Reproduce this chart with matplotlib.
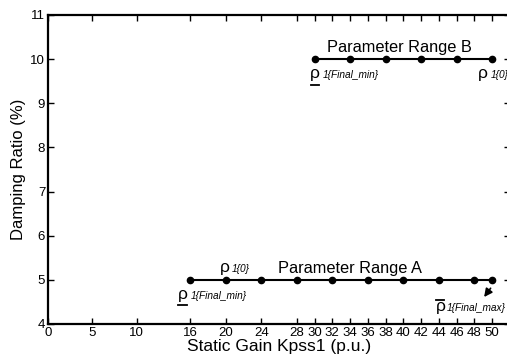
import matplotlib.pyplot as plt

# Kpss1 values tested in each parameter range
gain_a = [16, 20, 24, 28, 32, 36, 40, 44, 48, 50]
gain_b = [30, 34, 38, 42, 46, 50]
damping_a = [5] * len(gain_a)
damping_b = [10] * len(gain_b)

x_ticks = [0, 5, 10, 16, 20, 24, 28, 30, 32, 34, 36, 38, 40, 42, 44, 46, 48, 50]
y_ticks = [4, 5, 6, 7, 8, 9, 10, 11]

plt.rcParams['font.family'] = ['Liberation Sans', 'DejaVu Sans']

fig = plt.figure(figsize=(5.07, 3.59), dpi=100)
ax = fig.add_axes([0.0947, 0.0975, 462 / 507, 0.861])

ax.plot(gain_a, damping_a, '-o', color='black', lw=1.5, ms=4.5)
ax.plot(gain_b, damping_b, '-o', color='black', lw=1.5, ms=4.5)

ax.set_xlim(0, 52)
ax.set_ylim(4, 11)
ax.set_xticks(x_ticks)
ax.set_yticks(y_ticks)
ax.tick_params(direction='in', length=4, width=1, labelsize=9.5, top=True, right=True, pad=2)
for s in ax.spines.values():
    s.set_linewidth(1.6)

ax.set_xlabel('Static Gain Kpss1 (p.u.)', fontsize=12.5, labelpad=0)
ax.set_ylabel('Damping Ratio (%)', fontsize=12, labelpad=3)

# range titles
ax.text(39.6, 10.16, 'Parameter Range B', fontsize=11.8, ha='center', va='baseline')
ax.text(34.0, 5.15, 'Parameter Range A', fontsize=11.8, ha='center', va='baseline')


def rho_label(x, y, sub_x, sub, mark=None):
    ax.text(x, y, 'ρ', fontsize=12.5, ha='left', va='baseline')
    ax.text(sub_x, y, sub, fontsize=7.3, style='italic', ha='left', va='baseline')
    if mark == 'under':
        ax.plot([x + 0.05, x + 1.0], [y - 0.14, y - 0.14], color='black', lw=1.3)
    elif mark == 'over':
        ax.plot([x + 0.05, x + 1.0], [y + 0.25, y + 0.25], color='black', lw=1.3)


rho_label(29.5, 9.56, 30.9, '1{Final_min}', 'under')
rho_label(48.4, 9.56, 49.8, '1{0}')
rho_label(19.4, 5.18, 20.7, '1{0}')
rho_label(14.6, 4.57, 16.1, '1{Final_min}', 'under')
rho_label(43.6, 4.29, 44.9, '1{Final_max}', 'over')

ax.annotate('', xy=(48.9, 4.56), xytext=(50.0, 4.86),
            arrowprops=dict(arrowstyle='-|>', color='black', lw=1.2, mutation_scale=12))

fig.savefig('out.png', dpi=100)
